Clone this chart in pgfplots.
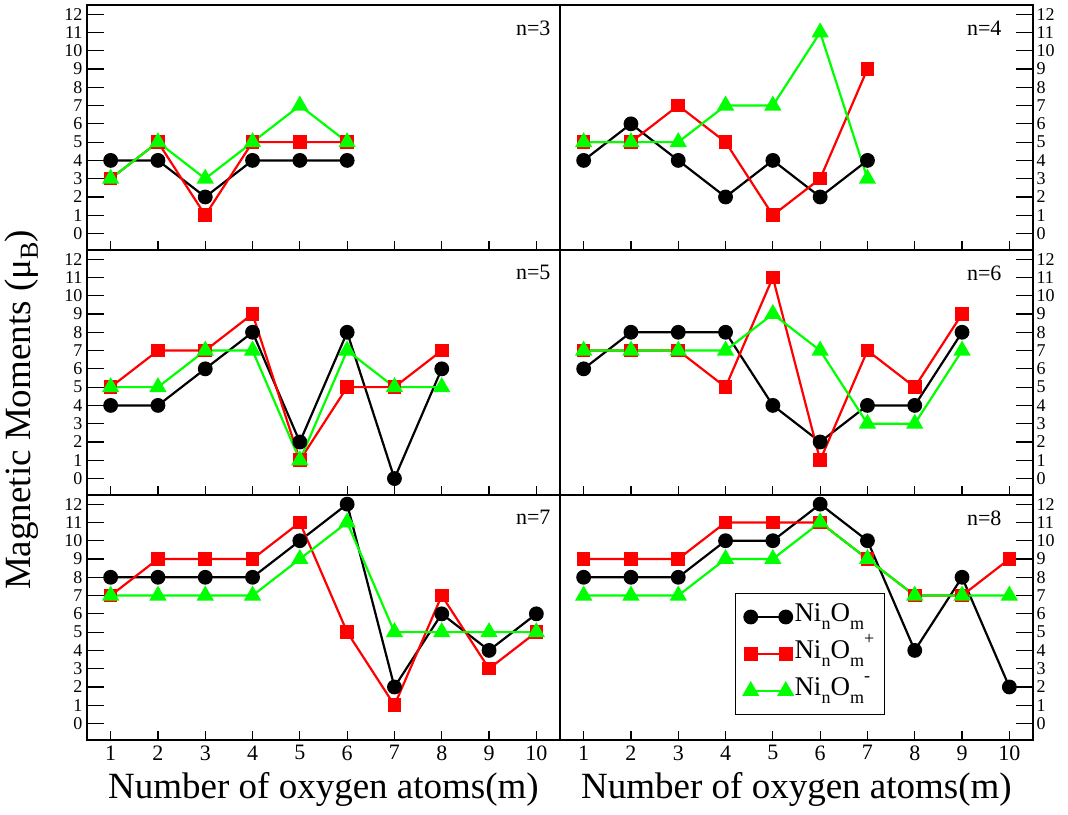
\documentclass[border=0pt]{standalone}
\usepackage{pgfplots}
\pgfplotsset{compat=1.18}
\usepackage{fontspec}
\setmainfont{Liberation Serif}
\definecolor{xgreen}{RGB}{0,255,0}
\definecolor{xred}{RGB}{255,0,0}
\newcommand{\lsub}[1]{\raisebox{-8pt}{\fontsize{18}{18}\selectfont #1}}
\newcommand{\lsup}[1]{\raisebox{14pt}{\fontsize{18}{18}\selectfont #1}}
\newcommand{\lf}{\fontsize{27}{27}\selectfont}
\begin{document}
\begin{tikzpicture}
\path[use as bounding box] (0pt,0pt) rectangle (1068pt,814pt);
\tikzset{ntext/.style={anchor=north east, font=\fontsize{22}{22}\selectfont}}
\pgfplotsset{
  panel/.style={
    scale only axis, width=473pt, height=245pt,
    xmin=0.5, xmax=10.5, ymin=-0.9, ymax=12.5,
    xtick={1,...,10}, ytick={0,...,12},
    tick align=inside, xtick pos=bottom,
    axis line style={line width=1.4pt},
    every tick/.style={line width=1.2pt, black},
    major tick length=17pt,
    xtick style={/pgfplots/major tick length=9pt},
    /pgf/number format/assume math mode=true,
    xticklabel style={font=\fontsize{22}{22}\selectfont, yshift=-2pt},
    yticklabel style={font=\fontsize{18}{18}\selectfont},
    clip=false,
  },
  leftp/.style={panel, ytick pos=left, yticklabel style={xshift=-1pt}},
  rightp/.style={panel, ytick pos=right, yticklabel pos=right},
  nolab/.style={xticklabels={}},
  sblack/.style={black, line width=2.2pt, mark=*, mark size=6.3pt, mark options={solid}},
  sred/.style={xred, line width=2.2pt, mark=square*, mark size=5.7pt, mark options={solid}},
  sgreen/.style={xgreen, line width=2.2pt, mark=triangle*, mark size=7.8pt, mark options={solid}},
  xlab/.style={xlabel={Number of oxygen atoms(m)}, xlabel style={font=\fontsize{37}{37}\selectfont, yshift=-5pt}},
}
% n=3
\begin{axis}[leftp, nolab, at={(87pt,564pt)}, anchor=south west]
\addplot[sblack] coordinates {(1,4)(2,4)(3,2)(4,4)(5,4)(6,4)};
\addplot[sred] coordinates {(1,3)(2,5)(3,1)(4,5)(5,5)(6,5)};
\addplot[sgreen] coordinates {(1,3)(2,5)(3,3)(4,5)(5,7)(6,5)};
\node[ntext] at (rel axis cs:1,1) [xshift=-6pt, yshift=-12pt] {n=3};
\end{axis}
% n=4
\begin{axis}[rightp, nolab, at={(560pt,564pt)}, anchor=south west]
\addplot[sblack] coordinates {(1,4)(2,6)(3,4)(4,2)(5,4)(6,2)(7,4)};
\addplot[sred] coordinates {(1,5)(2,5)(3,7)(4,5)(5,1)(6,3)(7,9)};
\addplot[sgreen] coordinates {(1,5)(2,5)(3,5)(4,7)(5,7)(6,11)(7,3)};
\node[ntext] at (rel axis cs:1,1) [xshift=-28pt, yshift=-12pt] {n=4};
\end{axis}
% n=5
\begin{axis}[leftp, nolab, at={(87pt,319pt)}, anchor=south west]
\addplot[sblack] coordinates {(1,4)(2,4)(3,6)(4,8)(5,2)(6,8)(7,0)(8,6)};
\addplot[sred] coordinates {(1,5)(2,7)(3,7)(4,9)(5,1)(6,5)(7,5)(8,7)};
\addplot[sgreen] coordinates {(1,5)(2,5)(3,7)(4,7)(5,1)(6,7)(7,5)(8,5)};
\node[ntext] at (rel axis cs:1,1) [xshift=-6pt, yshift=-12pt] {n=5};
\end{axis}
% n=6
\begin{axis}[rightp, nolab, at={(560pt,319pt)}, anchor=south west]
\addplot[sblack] coordinates {(1,6)(2,8)(3,8)(4,8)(5,4)(6,2)(7,4)(8,4)(9,8)};
\addplot[sred] coordinates {(1,7)(2,7)(3,7)(4,5)(5,11)(6,1)(7,7)(8,5)(9,9)};
\addplot[sgreen] coordinates {(1,7)(2,7)(3,7)(4,7)(5,9)(6,7)(7,3)(8,3)(9,7)};
\node[ntext] at (rel axis cs:1,1) [xshift=-28pt, yshift=-12pt] {n=6};
\end{axis}
% n=7
\begin{axis}[leftp, xlab, at={(87pt,74pt)}, anchor=south west]
\addplot[sblack] coordinates {(1,8)(2,8)(3,8)(4,8)(5,10)(6,12)(7,2)(8,6)(9,4)(10,6)};
\addplot[sred] coordinates {(1,7)(2,9)(3,9)(4,9)(5,11)(6,5)(7,1)(8,7)(9,3)(10,5)};
\addplot[sgreen] coordinates {(1,7)(2,7)(3,7)(4,7)(5,9)(6,11)(7,5)(8,5)(9,5)(10,5)};
\node[ntext] at (rel axis cs:1,1) [xshift=-6pt, yshift=-12pt] {n=7};
\end{axis}
% n=8
\begin{axis}[rightp, xlab, at={(560pt,74pt)}, anchor=south west,
  legend style={at={(0.371,0.6)}, anchor=north west, draw=black, line width=1pt,
    font=\lf, row sep=2pt, inner xsep=8pt, inner ysep=6pt,
    nodes={text height=20pt, text depth=11pt, inner sep=2pt}},
  legend cell align=left,
  legend image code/.code={\draw[mark repeat=2, mark phase=1] plot coordinates {(0pt,0pt)(17.5pt,0pt)(35pt,0pt)};}]
\addplot[sblack] coordinates {(1,8)(2,8)(3,8)(4,10)(5,10)(6,12)(7,10)(8,4)(9,8)(10,2)};
\addplot[sred] coordinates {(1,9)(2,9)(3,9)(4,11)(5,11)(6,11)(7,9)(8,7)(9,7)(10,9)};
\addplot[sgreen] coordinates {(1,7)(2,7)(3,7)(4,9)(5,9)(6,11)(7,9)(8,7)(9,7)(10,7)};
\legend{{\lf Ni\lsub{n}O\lsub{m}}, {\lf Ni\lsub{n}O\lsub{m}\lsup{+}}, {\lf Ni\lsub{n}O\lsub{m}\lsup{-}}}
\node[ntext] at (rel axis cs:1,1) [xshift=-28pt, yshift=-12pt] {n=8};
\end{axis}
\node[rotate=90, font=\fontsize{37}{37}\selectfont] at (22pt,404pt) {Magnetic Moments (μ\raisebox{-7pt}{\fontsize{26}{26}\selectfont B})};
\end{tikzpicture}
\end{document}
